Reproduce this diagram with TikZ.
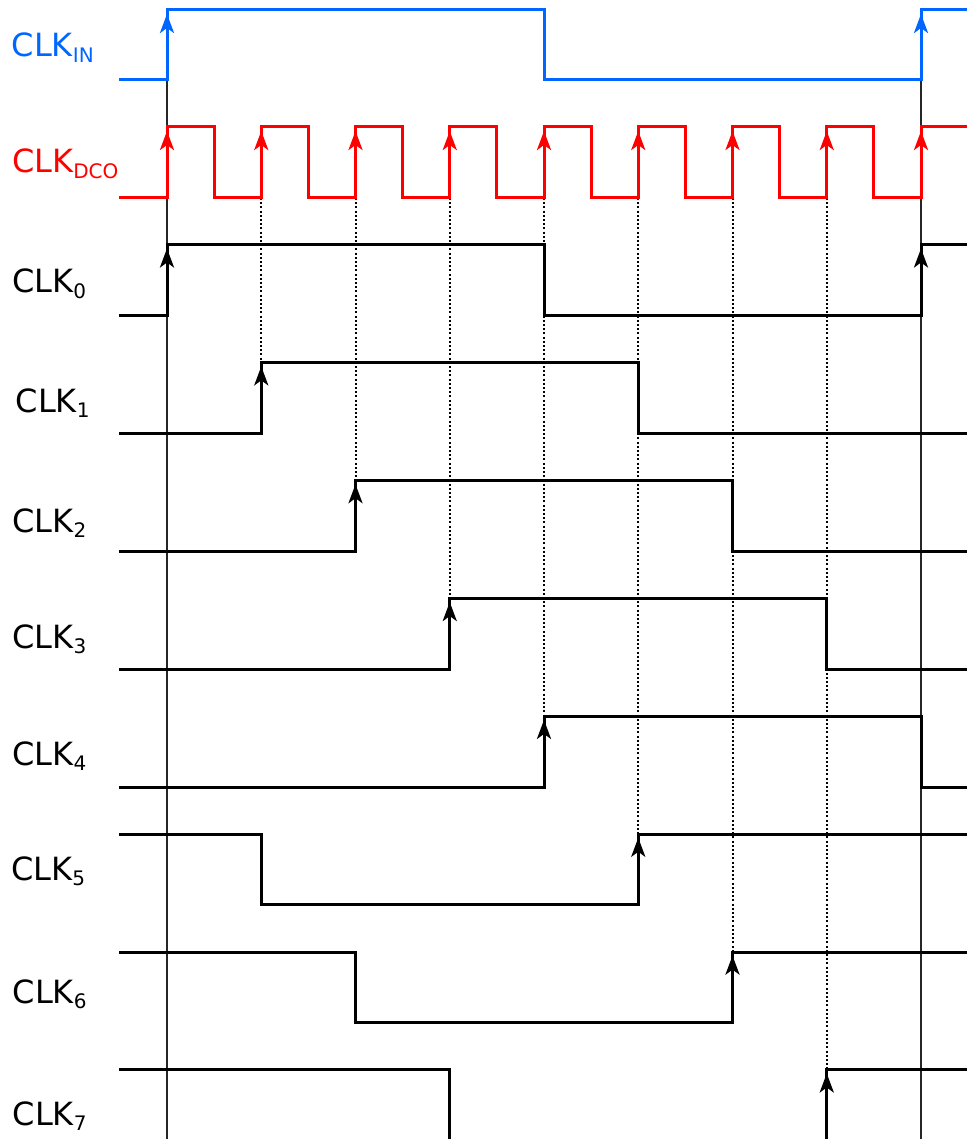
\documentclass[tikz,border=0pt]{standalone}
\usepackage{fontspec}
\setmainfont{DejaVu Sans}
\usetikzlibrary{arrows.meta}
\definecolor{inblue}{RGB}{0,102,255}
\definecolor{dcored}{RGB}{255,0,0}
\newcommand\lblsub[1]{\raisebox{-5.5pt}{\fontsize{20}{20}\selectfont #1}}
\begin{document}
\begin{tikzpicture}[x=1pt,y=-1pt,
  sig/.style={line width=3pt, line join=miter},
  rise/.style={-{Stealth[length=19pt,width=14pt,inset=5pt]}, line width=3pt},
  guide/.style={line width=1.4pt, black!85},
  dotguide/.style={line width=2pt, dash pattern=on 2pt off 2.2pt},
  lab/.style={anchor=base west, inner sep=0pt, font=\fontsize{32}{32}\selectfont}]
\useasboundingbox (0,0) rectangle (966,1139);

% reference lines through the CLK_IN rising edges
\draw[guide] (167,80) -- (167,1145);
\draw[guide] (921,80) -- (921,1145);

% dotted lines from each DCO rising edge to the phase that it starts
\foreach \n in {1,...,7}
  \draw[dotguide] ({167+\n*94.25},198) -- ({167+\n*94.25},{245+117.85*\n});

% CLK_IN
\draw[sig,inblue] (119,80) -- (167,80) -- (167,10) -- (544,10) -- (544,80)
  -- (921,80) -- (921,10) -- (967,10);
\foreach \x in {167,921}
  \draw[rise,inblue] (\x,80) -- (\x,14);

% CLK_DCO
\draw[sig,dcored] (119,198)
  \foreach \n in {0,...,7}{ -- ({167+\n*94.25},198) -- ++(0,-71) -- ++(47.125,0) -- ++(0,71)}
  -- (921,198) -- (921,127) -- (967,127);
\foreach \n in {0,...,8}
  \draw[rise,dcored] ({167+\n*94.25},198) -- ({167+\n*94.25},131);

% CLK_0 .. CLK_4 (start low)
\draw[sig] (119,315.7) -- (167,315.7) -- (167,245) -- (544,245) -- (544,315.7)
  -- (921,315.7) -- (921,245) -- (967,245);
\foreach \x in {167,921}
  \draw[rise] (\x,315.7) -- (\x,248.5);

\draw[sig] (119,433.55) -- (261.25,433.55) -- (261.25,362.85) -- (638.25,362.85)
  -- (638.25,433.55) -- (967,433.55);
\draw[rise] (261.25,433.55) -- (261.25,366.35);

\draw[sig] (119,551.4) -- (355.5,551.4) -- (355.5,480.7) -- (732.5,480.7)
  -- (732.5,551.4) -- (967,551.4);
\draw[rise] (355.5,551.4) -- (355.5,484.2);

\draw[sig] (119,669.25) -- (449.75,669.25) -- (449.75,598.55) -- (826.75,598.55)
  -- (826.75,669.25) -- (967,669.25);
\draw[rise] (449.75,669.25) -- (449.75,602.05);

\draw[sig] (119,787.1) -- (544,787.1) -- (544,716.4) -- (921,716.4)
  -- (921,787.1) -- (967,787.1);
\draw[rise] (544,787.1) -- (544,719.9);

% CLK_5 .. CLK_7 (start high)
\draw[sig] (119,834.25) -- (261.25,834.25) -- (261.25,904.95) -- (638.25,904.95)
  -- (638.25,834.25) -- (967,834.25);
\draw[rise] (638.25,904.95) -- (638.25,837.75);

\draw[sig] (119,952.1) -- (355.5,952.1) -- (355.5,1022.8) -- (732.5,1022.8)
  -- (732.5,952.1) -- (967,952.1);
\draw[rise] (732.5,1022.8) -- (732.5,955.6);

\draw[sig] (119,1069.95) -- (449.75,1069.95) -- (449.75,1145) ;
\draw[sig] (826.75,1145) -- (826.75,1069.95) -- (967,1069.95);
\draw[rise] (826.75,1140.65) -- (826.75,1073.45);

% signal names
\node[lab,text=inblue] (lin)  at (11.5,57)  {CLK\lblsub{IN}};
\node[lab,text=dcored] (ldco) at (11.9,173) {CLK\lblsub{DCO}};
\node[lab] (l0) at (11.9,293)  {CLK\lblsub{0}};
\node[lab] (l1) at (15.5,412)  {CLK\lblsub{1}};
\node[lab] (l2) at (12.2,532)  {CLK\lblsub{2}};
\node[lab] (l3) at (12.2,648)  {CLK\lblsub{3}};
\node[lab] (l4) at (12.2,765)  {CLK\lblsub{4}};
\node[lab] (l5) at (10.9,880)  {CLK\lblsub{5}};
\node[lab] (l6) at (12.5,1003) {CLK\lblsub{6}};
\node[lab] (l7) at (12.5,1125) {CLK\lblsub{7}};
\end{tikzpicture}
\end{document}
